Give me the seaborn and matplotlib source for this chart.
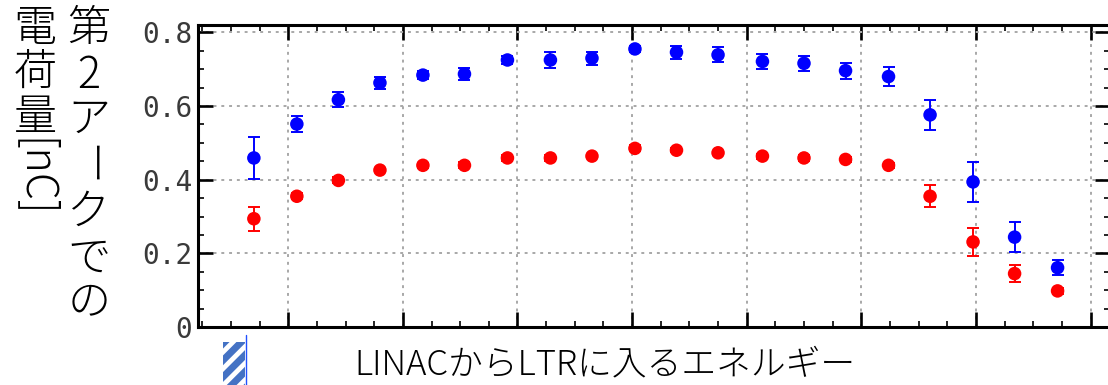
import matplotlib
matplotlib.use("Agg")
import matplotlib.pyplot as plt
from matplotlib.ticker import MultipleLocator, FixedLocator, FixedFormatter
from matplotlib.patches import Rectangle
import seaborn as sns
import pandas as pd

# Injection energy from LINAC into LTR (arbitrary units, no tick labels shown)
energy = [5.6, 8.6, 11.5, 14.4, 17.4, 20.3, 23.3, 26.3, 29.2, 32.2,
          35.1, 38.0, 41.1, 44.0, 46.9, 49.9, 52.8, 55.8, 58.7, 61.7]

# Charge at the 2nd arc [nC]
charge_blue = [0.459, 0.551, 0.617, 0.663, 0.684, 0.687, 0.725, 0.725, 0.730, 0.755,
               0.746, 0.739, 0.721, 0.716, 0.696, 0.680, 0.576, 0.394, 0.244, 0.161]
err_blue = [0.058, 0.022, 0.021, 0.016, 0.010, 0.016, 0.010, 0.022, 0.018, 0.008,
            0.017, 0.020, 0.020, 0.020, 0.022, 0.025, 0.041, 0.055, 0.041, 0.020]
charge_red = [0.294, 0.355, 0.398, 0.426, 0.439, 0.439, 0.459, 0.459, 0.464, 0.485,
              0.480, 0.473, 0.464, 0.459, 0.455, 0.439, 0.355, 0.231, 0.145, 0.098]
err_red = [0.033, 0.008, 0.008, 0.005, 0.006, 0.008, 0.008, 0.008, 0.006, 0.008,
           0.005, 0.005, 0.007, 0.007, 0.007, 0.007, 0.030, 0.037, 0.024, 0.008]

ytick_values = [0, 0.2, 0.4, 0.6, 0.8]
ytick_labels = ["0", "0.2", "0.4", "0.6", "0.8"]

xlabel_text = "LINACからLTRに入るエネルギー"
ylabel_col1 = ["第", "2", "ア", "ー", "ク", "で", "の"]
ylabel_col2 = ["電", "荷", "量", "[nC]"]

sns.set_style("white")
plt.rcParams["font.family"] = ["Noto Sans CJK JP", "DejaVu Sans"]
plt.rcParams["hatch.linewidth"] = 5.0

W, H = 1108, 385
fig = plt.figure(figsize=(W / 100, H / 100), dpi=100)
ax = fig.add_axes([198 / W, 58 / H, (1110 - 198) / W, (327 - 25) / H])

df = pd.DataFrame({
    "energy": energy * 2,
    "charge": charge_blue + charge_red,
    "err": err_blue + err_red,
    "series": ["blue"] * len(energy) + ["red"] * len(energy),
})
palette = {"blue": "#0000ff", "red": "#ff0000"}

for name, sub in df.groupby("series"):
    ax.errorbar(sub["energy"], sub["charge"], yerr=sub["err"], fmt="none",
                ecolor=palette[name], elinewidth=1.4, capsize=4, capthick=1.4,
                zorder=3)
sns.scatterplot(data=df, x="energy", y="charge", hue="series", palette=palette,
                marker="o", s=95, edgecolor="none", legend=False, ax=ax, zorder=4)

ax.set_xlim(1.7, 65.36)
ax.set_ylim(0, 0.82)

ax.xaxis.set_major_locator(MultipleLocator(8))
ax.xaxis.set_minor_locator(MultipleLocator(2))
ax.yaxis.set_major_locator(FixedLocator(ytick_values))
ax.yaxis.set_major_formatter(FixedFormatter(ytick_labels))
ax.yaxis.set_minor_locator(MultipleLocator(0.05))

ax.tick_params(which="both", direction="in", top=True, right=True,
               bottom=True, left=True, colors="black")
ax.tick_params(which="major", length=11, width=1.9)
ax.tick_params(which="minor", length=4.5, width=1.2)
ax.tick_params(axis="x", labelbottom=False)
ax.tick_params(axis="y", labelsize=20, labelcolor="#3a3a3a", pad=4)
for lab in ax.get_yticklabels():
    lab.set_family("DejaVu Sans Mono")

for sp in ax.spines.values():
    sp.set_linewidth(2.2)
    sp.set_color("black")

ax.grid(True, which="major", color="#a8a8a8", linestyle=(0, (1.5, 2.5)), linewidth=1.4)
ax.set_axisbelow(True)
ax.set_xlabel("")
ax.set_ylabel("")

# x-axis title
fig.text(605 / W, 1 - 364 / H, xlabel_text, ha="center", va="center",
         fontsize=25, color="black", fontweight="light")

# vertical y-axis title, two columns read right to left
col1_y = [28, 75, 119, 166, 212, 258, 302]
for ch, yy in zip(ylabel_col1, col1_y):
    rot = -90 if ch == "ー" else 0
    fig.text(89 / W, 1 - yy / H, ch, ha="center", va="center", fontsize=31,
             rotation=rot, color="black", fontweight="light")
col2_y = [28, 72, 118, 178]
for ch, yy in zip(ylabel_col2, col2_y):
    rot = -90 if ch == "[nC]" else 0
    fig.text(35 / W, 1 - yy / H, ch, ha="center", va="center", fontsize=31,
             rotation=rot, color="black", fontweight="light")

# striped patch at the lower left edge
fig.patches.append(Rectangle((223 / W, 0), 22 / W, (385 - 342) / H,
                             transform=fig.transFigure, facecolor="none",
                             edgecolor="#4472c4", linewidth=0, hatch="//"))
fig.lines.append(plt.Line2D([245.5 / W, 245.5 / W], [0, 1 - 335 / H],
                            transform=fig.transFigure, color="#2050ff",
                            linewidth=1.0))

fig.savefig("out.png", dpi=100)
